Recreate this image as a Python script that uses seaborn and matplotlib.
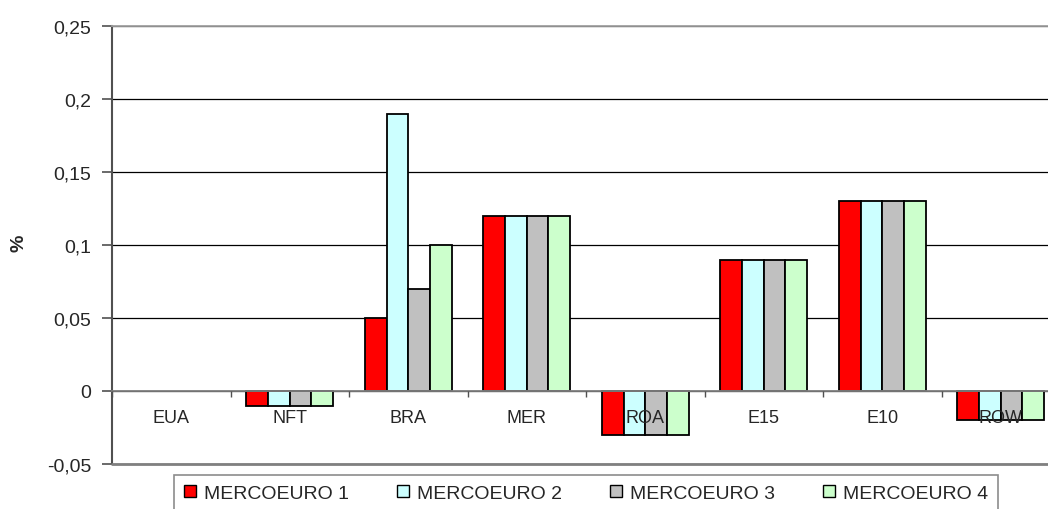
import matplotlib
matplotlib.use("Agg")
import matplotlib.pyplot as plt
import matplotlib.ticker as mticker
from matplotlib.patches import Patch
import seaborn as sns
import pandas as pd

categories = ["EUA", "NFT", "BRA", "MER", "ROA", "E15", "E10", "ROW"]
series_names = ["MERCOEURO 1", "MERCOEURO 2", "MERCOEURO 3", "MERCOEURO 4"]
mercoeuro1 = [0.0, -0.01, 0.05, 0.12, -0.03, 0.09, 0.13, -0.02]
mercoeuro2 = [0.0, -0.01, 0.19, 0.12, -0.03, 0.09, 0.13, -0.02]
mercoeuro3 = [0.0, -0.01, 0.07, 0.12, -0.03, 0.09, 0.13, -0.02]
mercoeuro4 = [0.0, -0.01, 0.10, 0.12, -0.03, 0.09, 0.13, -0.02]
yticks = [-0.05, 0.0, 0.05, 0.10, 0.15, 0.20, 0.25]
colors = ["#FF0000", "#CCFFFF", "#C0C0C0", "#CCFFCC"]

rows = []
for name, vals in zip(series_names, [mercoeuro1, mercoeuro2, mercoeuro3, mercoeuro4]):
    for c, v in zip(categories, vals):
        rows.append({"cat": c, "val": v, "scenario": name})
df = pd.DataFrame(rows)

sns.set_style("white")
plt.rcParams["font.family"] = ["Liberation Sans", "DejaVu Sans"]

W, H = 1048, 510
fig = plt.figure(figsize=(W / 100, H / 100), dpi=100)
ax = fig.add_axes([112 / W, 1 - 465 / H, 948 / W, 438 / H])

sns.barplot(data=df, x="cat", y="val", hue="scenario", order=categories,
            hue_order=series_names, palette=colors, width=0.73,
            edgecolor="black", linewidth=1.3, saturation=1, errorbar=None,
            ax=ax, legend=False)

for p in ax.patches:
    if abs(p.get_height()) < 1e-12:
        p.set_linewidth(0)

ax.set_ylim(-0.05, 0.25)
ax.set_xlim(-0.5, len(categories) - 0.5)
ax.set_yticks(yticks)
ax.yaxis.set_major_formatter(mticker.FuncFormatter(
    lambda v, p: ("%g" % round(v, 4)).replace(".", ",")))
ax.tick_params(axis="y", direction="out", length=7, width=1.2, color="#505050",
               labelsize=14, pad=8, left=True)

ax.grid(axis="y", color="black", linewidth=0.9)
ax.grid(axis="x", visible=False)
ax.set_axisbelow(True)
ax.xaxis.set_zorder(3)

# x axis at zero
ax.spines["bottom"].set_position(("data", 0))
ax.spines["bottom"].set_color("#808080")
ax.spines["bottom"].set_linewidth(1.3)
ax.spines["left"].set_color("#505050")
ax.spines["left"].set_linewidth(1.5)
ax.spines["top"].set_color("#A0A0A0")
ax.spines["top"].set_linewidth(1.3)
ax.spines["right"].set_color("#808080")
ax.axhline(-0.05, color="#808080", linewidth=2, clip_on=False, zorder=3)

ax.set_xticks(range(len(categories)))
ax.set_xticklabels(categories)
ax.set_xticks([i - 0.5 for i in range(len(categories) + 1)], minor=True)
ax.tick_params(axis="x", which="major", length=0, pad=13, labelsize=13)
ax.tick_params(axis="x", which="minor", direction="out", length=4, width=1,
               color="#505050", bottom=True)
ax.set_xlabel("")

ax.set_ylabel("%", fontweight="bold", fontsize=14)
ax.yaxis.set_label_coords((27 - 112) / 948, (465 - 243) / 438)

handles = [Patch(facecolor=c, edgecolor="black", linewidth=1.0) for c in colors]
leg = fig.legend(handles, series_names, loc="upper center", ncol=4,
                 bbox_to_anchor=(586 / W, 1 - 476 / H),
                 bbox_transform=fig.transFigure, fontsize=14,
                 frameon=True, fancybox=False, edgecolor="#707070",
                 handlelength=0.6, handleheight=0.6, handletextpad=0.4,
                 columnspacing=2.5, borderpad=0.5, borderaxespad=0)
leg.get_frame().set_linewidth(1.2)

fig.savefig("out.png", dpi=100)
